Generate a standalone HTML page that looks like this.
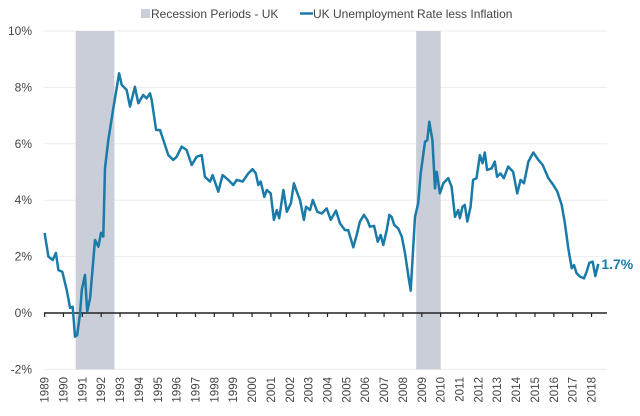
<!DOCTYPE html>
<html><head><meta charset="utf-8"><style>
html,body{margin:0;padding:0;background:#fff;}
svg{display:block;font-family:"Liberation Sans",sans-serif;}
</style></head><body>
<svg id="chart" width="640" height="416" viewBox="0 0 640 416" xmlns="http://www.w3.org/2000/svg">
<g>
  <rect x="141" y="9" width="9" height="9" fill="#c9ced8"/>
  <text x="151" y="18" font-size="12" fill="#444">Recession Periods - UK</text>
  <line x1="300" y1="13.5" x2="313" y2="13.5" stroke="#1a7aa8" stroke-width="2.5"/>
  <text x="313" y="18" font-size="12" fill="#444">UK Unemployment Rate less Inflation</text>
</g>
<g id="grid"></g><g id="rec"></g><g id="axis"></g><g id="series"></g><g id="labels"></g>
</svg>
<script>
const yTicks=[10,8,6,4,2,0,-2];
const yTickLabels=["10%","8%","6%","4%","2%","0%","-2%"];
const years=[1989,1990,1991,1992,1993,1994,1995,1996,1997,1998,1999,2000,2001,2002,2003,2004,2005,2006,2007,2008,2009,2010,2011,2012,2013,2014,2015,2016,2017,2018];
const recStart=[1990.65,2008.7];
const recEnd=[1992.7,2010.0];
const dates=[1989.0,1989.2,1989.43,1989.6,1989.73,1989.94,1990.17,1990.35,1990.49,1990.61,1990.73,1990.88,1990.97,1991.14,1991.26,1991.41,1991.67,1991.85,1991.99,1992.11,1992.2,1992.38,1992.64,1992.79,1992.95,1993.09,1993.35,1993.53,1993.79,1993.97,1994.23,1994.41,1994.59,1994.68,1994.91,1995.12,1995.3,1995.56,1995.82,1996.0,1996.27,1996.53,1996.8,1997.06,1997.33,1997.5,1997.77,1997.91,1998.21,1998.44,1998.74,1999.0,1999.19,1999.5,1999.8,2000.03,2000.2,2000.33,2000.46,2000.65,2000.78,2000.99,2001.16,2001.31,2001.44,2001.66,2001.84,2002.06,2002.22,2002.37,2002.54,2002.75,2002.86,2003.07,2003.22,2003.46,2003.69,2003.96,2004.17,2004.45,2004.66,2004.93,2005.1,2005.37,2005.55,2005.72,2005.93,2006.11,2006.25,2006.47,2006.66,2006.82,2006.96,2007.14,2007.28,2007.4,2007.54,2007.75,2007.94,2008.11,2008.28,2008.41,2008.64,2008.81,2008.94,2009.17,2009.29,2009.4,2009.56,2009.7,2009.79,2009.96,2010.14,2010.4,2010.58,2010.76,2010.93,2011.02,2011.16,2011.28,2011.41,2011.59,2011.72,2011.9,2012.08,2012.22,2012.34,2012.46,2012.7,2012.87,2012.99,2013.17,2013.35,2013.58,2013.84,2014.06,2014.24,2014.42,2014.65,2014.91,2015.18,2015.41,2015.71,2015.97,2016.19,2016.42,2016.59,2016.77,2016.95,2017.07,2017.21,2017.39,2017.6,2017.74,2017.88,2018.06,2018.2,2018.36];
const values=[2.84,2.0,1.88,2.13,1.52,1.46,0.82,0.18,0.22,-0.84,-0.78,0,0.82,1.35,0.05,0.53,2.59,2.35,2.84,2.71,5.13,6.13,7.26,7.85,8.5,8.09,7.91,7.32,8.02,7.44,7.73,7.61,7.79,7.55,6.49,6.49,6.13,5.6,5.43,5.54,5.9,5.78,5.25,5.54,5.6,4.83,4.66,4.89,4.3,4.89,4.72,4.54,4.72,4.66,4.95,5.1,4.95,4.54,4.66,4.12,4.36,4.24,3.3,3.65,3.36,4.36,3.59,3.89,4.6,4.3,4.01,3.3,3.77,3.65,4.01,3.59,3.53,3.71,3.3,3.63,3.18,2.94,2.94,2.33,2.77,3.24,3.48,3.3,3.06,3.09,2.53,2.77,2.41,2.94,3.48,3.41,3.12,3.0,2.71,2.12,1.35,0.79,3.41,3.89,4.95,6.07,6.13,6.78,6.13,4.42,5.01,4.24,4.6,4.78,4.48,3.41,3.65,3.36,3.77,3.83,3.24,3.77,4.72,4.78,5.6,5.31,5.69,5.07,5.13,5.37,4.83,4.95,4.78,5.19,5.01,4.24,4.72,4.6,5.37,5.69,5.43,5.25,4.78,4.54,4.3,3.83,3.18,2.29,1.59,1.7,1.41,1.29,1.23,1.46,1.78,1.82,1.31,1.74];
const endLabel="1.7%";

const X0=44.6, XS=18.86, Y0=313, YS=28.2, XL=44, XR=607;
const x=d=>X0+(d-1989)*XS;
const y=v=>Y0-v*YS;
const NS="http://www.w3.org/2000/svg";
function mk(tag,parent,attrs){const e=document.createElementNS(NS,tag);for(const k in attrs)e.setAttribute(k,attrs[k]);document.getElementById(parent).appendChild(e);return e;}

yTicks.forEach((t,i)=>{
  if(t!==0){const g=mk('line','grid',{x1:XL,x2:XR,y1:y(t),y2:y(t),stroke:'#ebebeb','stroke-width':1});
  
  }
  const l=mk('text','labels',{x:32,y:y(t)+4,'text-anchor':'end','font-size':12,fill:'#444'});
  l.textContent=yTickLabels[i];
  
  
});
recStart.forEach((s,i)=>{
  const r=mk('rect','rec',{x:x(s),y:y(10),width:x(recEnd[i])-x(s),height:y(-2)-y(10),fill:'#c9ced8'});
  
  
});
const ax=mk('line','axis',{x1:XL,x2:XR,y1:y(0),y2:y(0),stroke:'#222','stroke-width':1.5});


years.forEach(yr=>{
  const t=mk('line','axis',{x1:x(yr),x2:x(yr),y1:y(0),y2:y(0)+4,stroke:'#222','stroke-width':1.2});
  
  
  const l=mk('text','labels',{x:0,y:0,'text-anchor':'end','font-size':11.5,fill:'#444',transform:`translate(${x(yr)+4},377) rotate(-90)`});
  l.textContent=yr;
  
  
});
const p=mk('polyline','series',{points:dates.map((d,i)=>x(d).toFixed(1)+','+y(values[i]).toFixed(1)).join(' '),fill:'none',stroke:'#1a7aa8','stroke-width':2.5,'stroke-linejoin':'round'});


const el=mk('text','labels',{x:x(dates[dates.length-1])+3,y:y(values[values.length-1])+5,'font-size':14,'font-weight':'bold',fill:'#1a7aa8'});
el.textContent=endLabel;


</script>
</body></html>
